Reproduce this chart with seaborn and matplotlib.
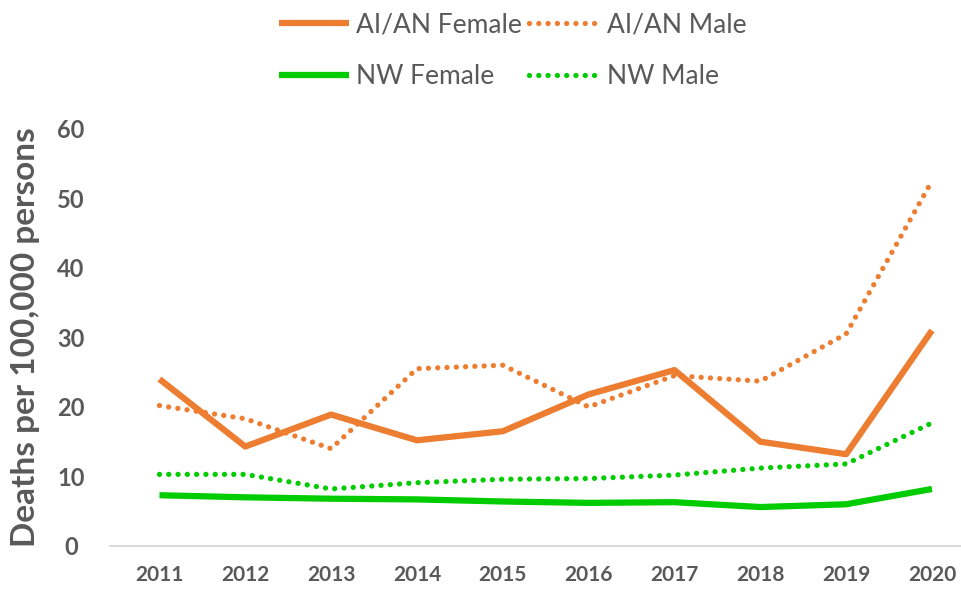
import matplotlib
matplotlib.use("Agg")
import matplotlib.pyplot as plt
import seaborn as sns
import pandas as pd

# Data
years = ["2011", "2012", "2013", "2014", "2015", "2016", "2017", "2018", "2019", "2020"]
aian_female = [24.0, 14.3, 18.9, 15.2, 16.5, 21.8, 25.3, 15.0, 13.2, 31.0]
aian_male = [20.2, 18.3, 14.0, 25.5, 26.0, 20.0, 24.5, 23.7, 30.5, 52.5]
nw_female = [7.3, 7.0, 6.8, 6.7, 6.4, 6.2, 6.3, 5.6, 6.0, 8.2]
nw_male = [10.3, 10.3, 8.2, 9.1, 9.6, 9.7, 10.2, 11.2, 11.8, 17.7]

orange = "#ED7D31"
green = "#00CC00"
gray = "#595959"

sns.set_theme(style="white")
plt.rcParams["font.family"] = ["Lato", "DejaVu Sans"]

df = pd.DataFrame({"year": range(len(years)),
                   "AI/AN Female": aian_female, "AI/AN Male": aian_male,
                   "NW Female": nw_female, "NW Male": nw_male})

fig = plt.figure(figsize=(9.62, 5.99), dpi=100)
ax = fig.add_axes([0.114, 0.0885, 0.886, 0.6965])

solid = dict(linewidth=4.5, solid_capstyle="butt")
dots = dict(linewidth=3.8, linestyle=(0, (0.01, 1.75)), dash_capstyle="round")

# order chosen so a column-filled 2x2 legend reads row by row like the original
sns.lineplot(data=df, x="year", y="AI/AN Female", ax=ax, color=orange, label="AI/AN Female", **solid)
sns.lineplot(data=df, x="year", y="NW Female", ax=ax, color=green, label="NW Female", **solid)
sns.lineplot(data=df, x="year", y="AI/AN Male", ax=ax, color=orange, label="AI/AN Male", **dots)
sns.lineplot(data=df, x="year", y="NW Male", ax=ax, color=green, label="NW Male", **dots)

ax.set_xlim(-0.58, 9.35)
ax.set_ylim(0, 60)
ax.set_yticks(range(0, 61, 10))
ax.set_xticks(range(len(years)))
ax.set_xticklabels(years)
ax.tick_params(axis="both", length=0, labelcolor=gray)
ax.tick_params(axis="y", pad=28)
ax.tick_params(axis="x", pad=14)
for lab in ax.get_yticklabels():
    lab.set_fontsize(17)
    lab.set_fontweight("bold")
    lab.set_horizontalalignment("center")
for lab in ax.get_xticklabels():
    lab.set_fontsize(15)
    lab.set_fontweight("bold")

ax.set_xlabel("")
ax.set_ylabel("Deaths per 100,000 persons", fontsize=24, fontweight="bold", color=gray)
ax.yaxis.set_label_coords(-0.082, 0.5)

for s in ["top", "right", "left"]:
    ax.spines[s].set_visible(False)
ax.spines["bottom"].set_color("#D9D9D9")
ax.spines["bottom"].set_linewidth(1.5)

ax.legend(ncol=2, loc="center", bbox_to_anchor=(0.533, 0.915), bbox_transform=fig.transFigure,
          frameon=False, fontsize=19, labelcolor=gray, handlelength=2.65, handletextpad=0.3,
          columnspacing=0.27, labelspacing=1.0)

fig.savefig("out.png", dpi=100)
